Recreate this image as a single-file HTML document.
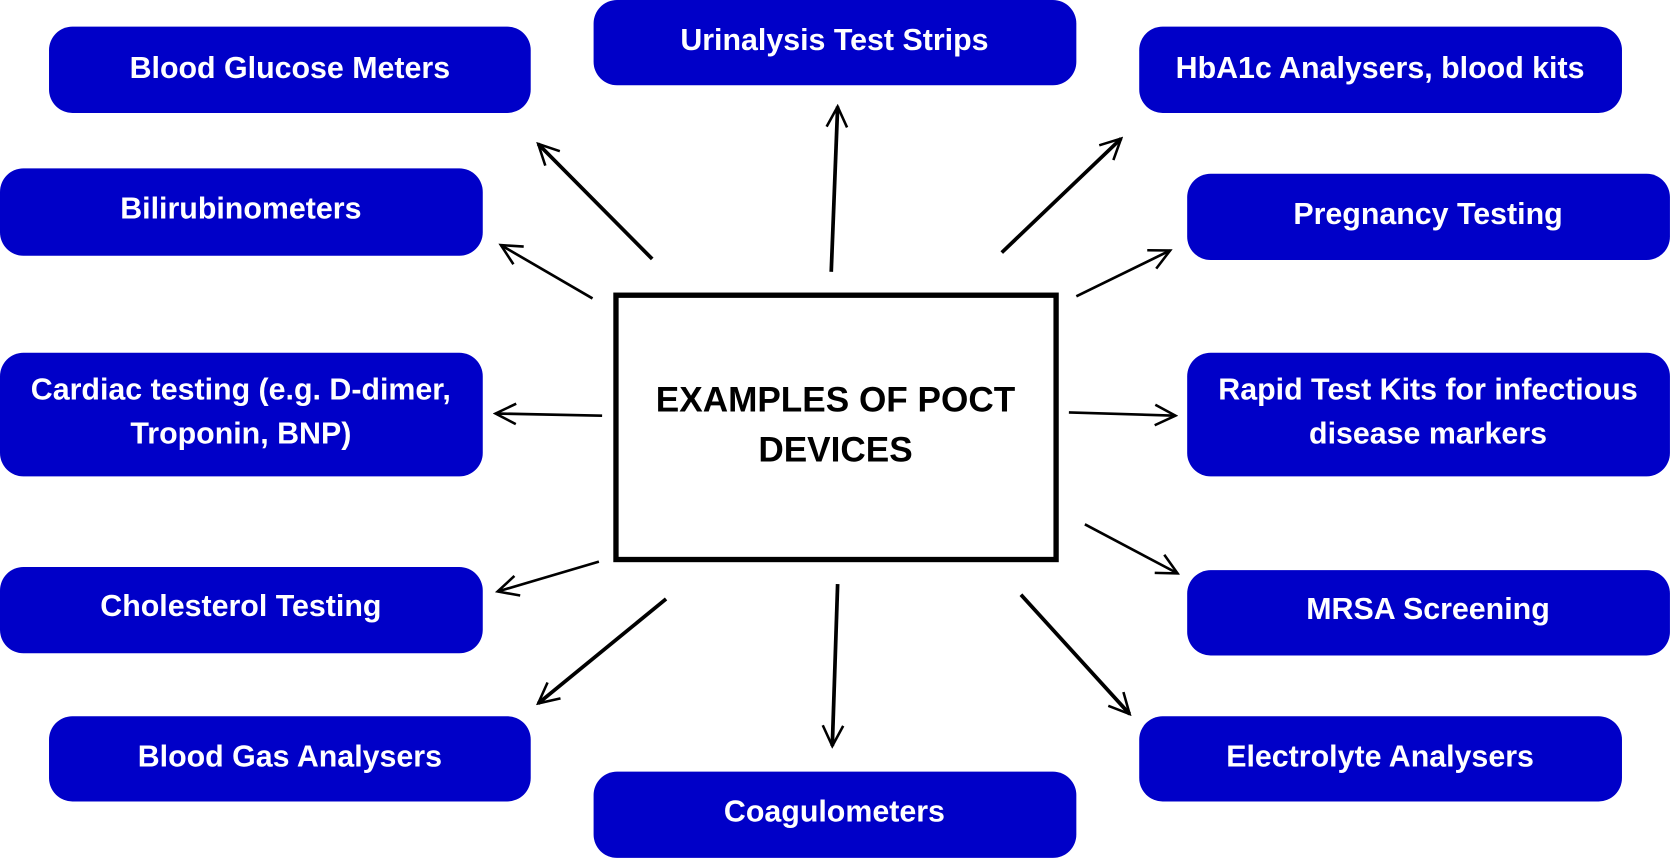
<!DOCTYPE html>
<html><head><meta charset="utf-8"><style>
html,body{margin:0;padding:0;background:#fff;}
svg{display:block;}
text{font-family:"Liberation Sans",sans-serif;font-weight:bold;fill:#fff;font-size:28.5px;text-anchor:middle;}
</style></head><body>
<svg width="1671" height="859" viewBox="0 0 1568 806" preserveAspectRatio="none" xmlns="http://www.w3.org/2000/svg">
<defs>
<marker id="b" viewBox="0 0 20 20" refX="18" refY="10" markerWidth="24" markerHeight="24" markerUnits="userSpaceOnUse" orient="auto">
<path d="M2,2 L18,10 L2,18" fill="none" stroke="#000" stroke-width="2"/>
</marker>
</defs>
<g fill="#0000c8">
<rect x="46" y="25" width="452" height="81" rx="22"/>
<rect x="557" y="0" width="453" height="80" rx="22"/>
<rect x="1069" y="25" width="453" height="81" rx="22"/>
<rect x="0" y="158" width="453" height="82" rx="22"/>
<rect x="1114" y="163" width="453" height="81" rx="22"/>
<rect x="0" y="331" width="453" height="116" rx="22"/>
<rect x="1114" y="331" width="453" height="116" rx="22"/>
<rect x="0" y="532" width="453" height="81" rx="22"/>
<rect x="1114" y="535" width="453" height="80" rx="22"/>
<rect x="46" y="672" width="452" height="80" rx="22"/>
<rect x="1069" y="672" width="453" height="80" rx="22"/>
<rect x="557" y="724" width="453" height="81" rx="22"/>
</g>
<text x="272" y="73">Blood Glucose Meters</text>
<text x="783" y="47">Urinalysis Test Strips</text>
<text x="1295" y="73">HbA1c Analysers, blood kits</text>
<text x="226" y="205">Bilirubinometers</text>
<text x="1340" y="210">Pregnancy Testing</text>
<text x="226" y="375">Cardiac testing (e.g. D-dimer,</text>
<text x="226" y="416">Troponin, BNP)</text>
<text x="1340" y="375">Rapid Test Kits for infectious</text>
<text x="1340" y="416">disease markers</text>
<text x="226" y="578">Cholesterol Testing</text>
<text x="1340" y="581">MRSA Screening</text>
<text x="272" y="719">Blood Gas Analysers</text>
<text x="1295" y="719">Electrolyte Analysers</text>
<text x="783" y="771">Coagulometers</text>
<rect x="578" y="277" width="413" height="248" fill="none" stroke="#000" stroke-width="5"/>
<text x="784" y="386" style="fill:#000;font-size:33px">EXAMPLES OF POCT</text>
<text x="784" y="433" style="fill:#000;font-size:33px">DEVICES</text>
<g stroke="#000" fill="none" stroke-width="3.5" marker-end="url(#b)">
<path d="M612,243 L505,135"/>
<path d="M780,255 L786,100"/>
<path d="M940,237 L1052,130"/>
<path d="M625,562 L505,660"/>
<path d="M786,548 L781,700"/>
<path d="M958,558 L1060,670"/>
</g>
<g stroke="#000" fill="none" stroke-width="2.5" marker-end="url(#b)">
<path d="M556,280 L470,230"/>
<path d="M1010,278 L1098,235"/>
<path d="M565,390 L465,388"/>
<path d="M1003,387 L1103,390"/>
<path d="M562,527 L467,555"/>
<path d="M1018,492 L1105,538"/>
</g>
</svg>
</body></html>
